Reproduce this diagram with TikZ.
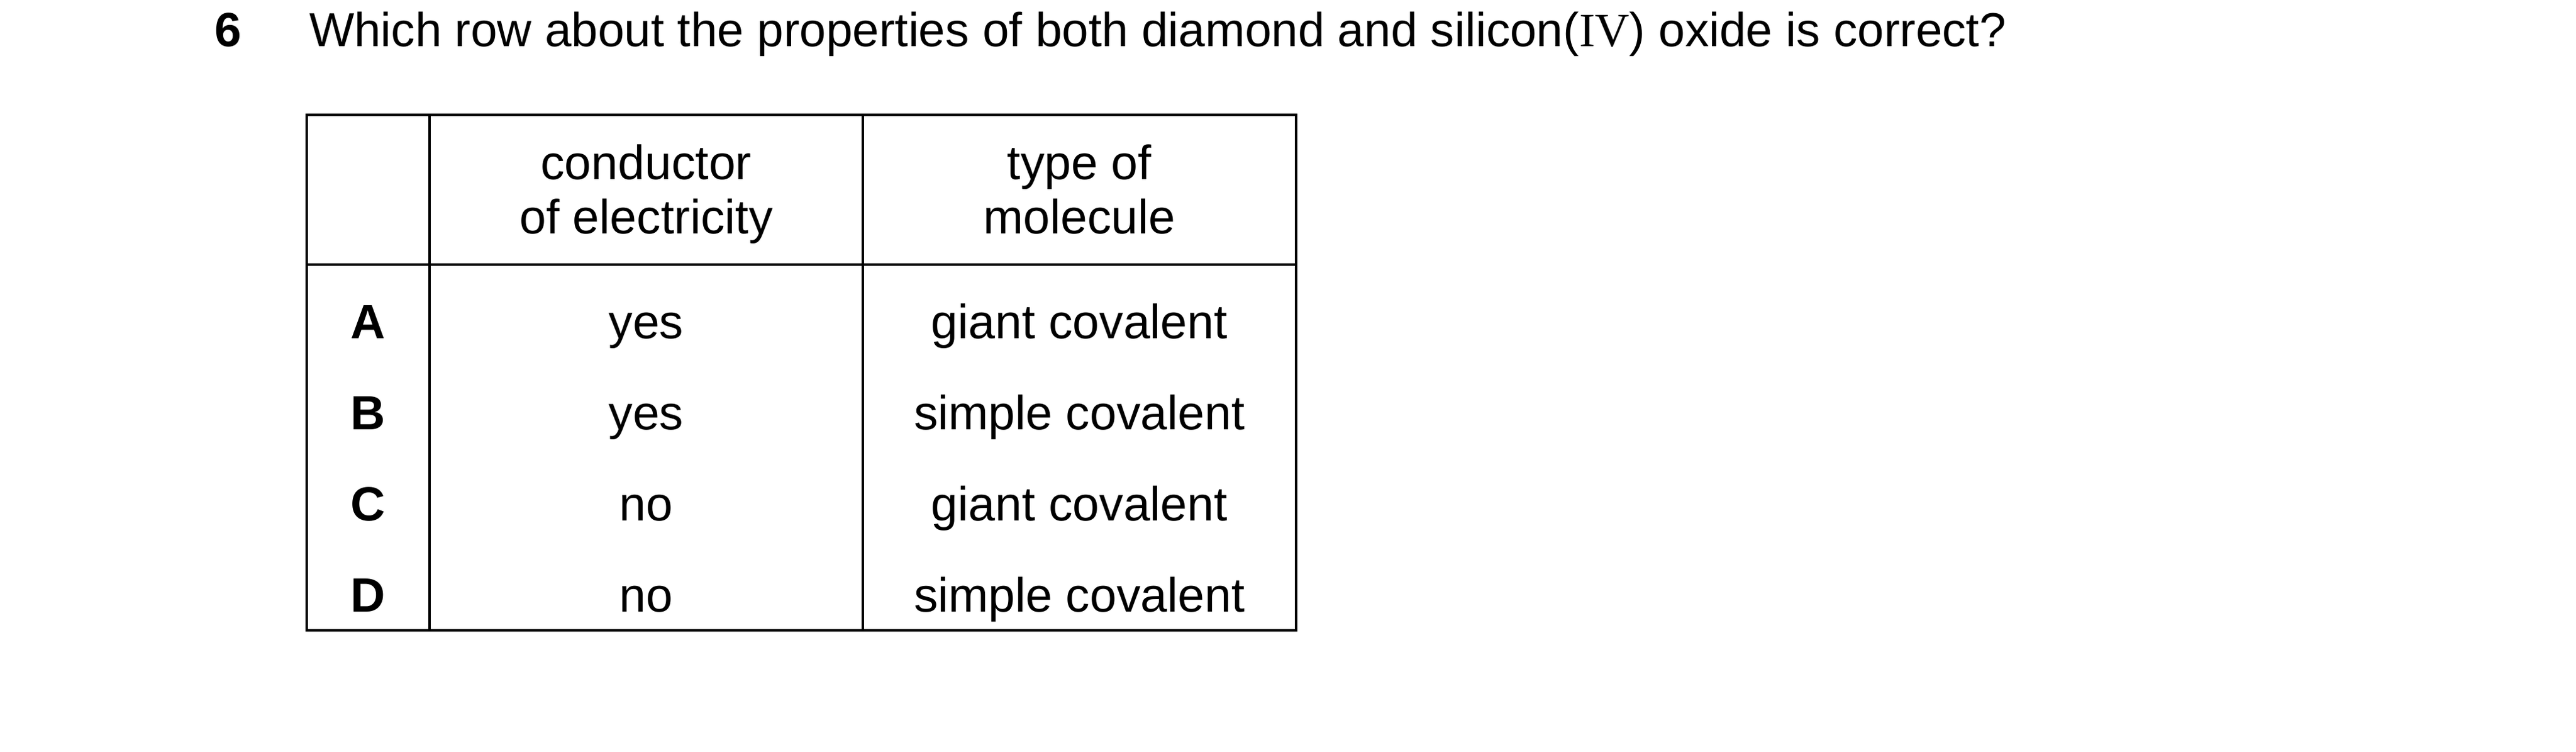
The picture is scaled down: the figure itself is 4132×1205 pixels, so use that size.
\documentclass[tikz,border=0pt]{standalone}
\usepackage{fontspec}
\setmainfont{Liberation Sans}
\newfontfamily\romanfont{Liberation Serif}
\begin{document}
\begin{tikzpicture}[x=0.142857pt,y=-0.142857pt,
  txt/.style={inner sep=0pt,outer sep=0pt,anchor=base,font=\fontsize{11}{13}\selectfont},
  rowlbl/.style={txt,font=\fontsize{11}{13}\selectfont\bfseries},
  rule/.style={line width=0.48pt,line cap=rect}]
\fill[white] (0,0) rectangle (4132,1205);
\useasboundingbox (0,0) rectangle (4132,1205);
% question
\node[rowlbl,anchor=base west] (qnum) at (344,75) {6};
\node[txt,anchor=base west,font=\fontsize{10.93}{13}\selectfont] (qtext) at (496,75) {Which row about the properties of both diamond and silicon({\romanfont IV}) oxide is correct?};
% table frame
\coordinate (tl) at (492,184);
\coordinate (br) at (2079,1010);
\draw[rule] (tl) rectangle (br);
\draw[rule] (492,424) -- (2079,424);
\draw[rule] (689,184) -- (689,1010);
\draw[rule] (1384,184) -- (1384,1010);
% header
\node[txt] (h1a) at (1036.5,287.7) {conductor};
\node[txt] (h1b) at (1036.5,375) {of electricity};
\node[txt] (h2a) at (1731.5,287.7) {type of};
\node[txt] (h2b) at (1731.5,375) {molecule};
% rows
\node[rowlbl] (la) at (590.5,543) {A};
\node[rowlbl] (lb) at (590.5,689) {B};
\node[rowlbl] (lc) at (590.5,835) {C};
\node[rowlbl] (ld) at (590.5,981) {D};
\node[txt] (ca) at (1036.5,543) {yes};
\node[txt] (cb) at (1036.5,689) {yes};
\node[txt] (cc) at (1036.5,835) {no};
\node[txt] (cd) at (1036.5,981) {no};
\node[txt] (ta) at (1731.5,543) {giant covalent};
\node[txt] (tb) at (1731.5,689) {simple covalent};
\node[txt] (tc) at (1731.5,835) {giant covalent};
\node[txt] (td) at (1731.5,981) {simple covalent};
\end{tikzpicture}
\end{document}
